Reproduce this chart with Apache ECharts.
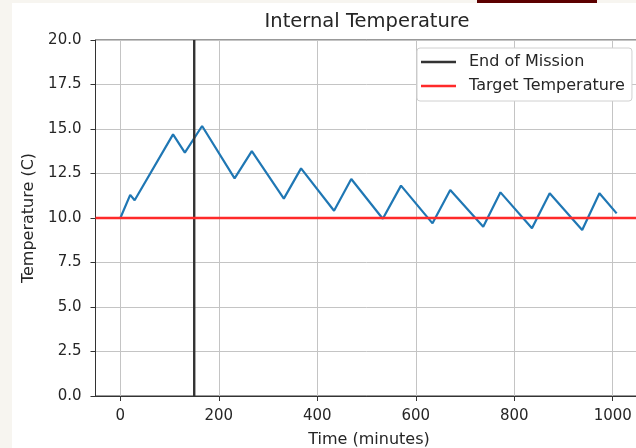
<!DOCTYPE html>
<html>
<head>
<meta charset="utf-8">
<script src="https://cdn.jsdelivr.net/npm/echarts@6/dist/echarts.min.js"></script>
<style>html,body{margin:0;padding:0;background:#fff;}#c{width:636px;height:448px;}</style>
</head>
<body>
<div id="c"></div>
<script>
// Data
const timeMinutes = [0, 20, 29, 107, 131, 166, 232, 267, 332, 367, 434, 469, 533, 570, 634, 670, 737, 772, 836, 872, 938, 973, 1008];
const temperatureC = [10.0, 11.3, 11.0, 14.7, 13.67, 15.17, 12.23, 13.76, 11.09, 12.79, 10.41, 12.19, 9.96, 11.82, 9.7, 11.57, 9.51, 11.44, 9.42, 11.39, 9.33, 11.39, 10.26];
const endOfMission = 150;
const targetTemperature = 10;
const xTicks = [0, 200, 400, 600, 800, 1000];
const yTicks = [0, 2.5, 5, 7.5, 10, 12.5, 15, 17.5, 20];
const xRange = [-50.5, 1060.5];
const yRange = [0, 20];

const font = 'DejaVu Sans';
const txt = '#262626';
const chart = echarts.init(document.getElementById('c'));
chart.setOption({
  animation: false,
  backgroundColor: '#ffffff',
  grid: { left: 95.5, top: 40, width: 547, height: 356, outerBoundsMode: 'none', containLabel: false, show: true, borderColor: '#333', borderWidth: 1, backgroundColor: 'transparent' },
  graphic: [
    { type: 'rect', shape: { x: 0, y: 0, width: 12, height: 448 }, style: { fill: '#f7f5f0' }, silent: true },
    { type: 'rect', shape: { x: 0, y: 0, width: 636, height: 3 }, style: { fill: '#f7f5f0' }, silent: true },
    { type: 'rect', shape: { x: 477, y: 0, width: 120, height: 3 }, style: { fill: '#5c0000' }, silent: true },
    { type: 'text', x: 367, y: 22, style: { text: 'Internal Temperature', font: '19.5px "DejaVu Sans"', fill: txt, textAlign: 'center', textVerticalAlign: 'middle' }, silent: true }
  ],
  legend: {
    orient: 'vertical', left: 417, top: 48,
    padding: [6, 7, 7, 4], itemGap: 8,
    itemWidth: 35, itemHeight: 2.5,
    backgroundColor: '#fff', borderColor: '#d0d0d0', borderWidth: 1, borderRadius: 3,
    textStyle: { fontFamily: font, fontSize: 16, color: txt, padding: [0, 0, 0, 8] },
    data: [{ name: 'End of Mission', icon: 'rect' }, { name: 'Target Temperature', icon: 'rect' }]
  },
  xAxis: {
    type: 'value', min: xRange[0], max: xRange[1],
    name: 'Time (minutes)', nameLocation: 'middle', nameGap: 36,
    nameTextStyle: { fontFamily: font, fontSize: 16, color: txt },
    axisLine: { show: true, onZero: false, lineStyle: { color: '#333', width: 1 } },
    axisTick: { show: true, length: 5, inside: false, customValues: xTicks, lineStyle: { color: '#333' } },
    axisLabel: { customValues: xTicks, fontFamily: font, fontSize: 15, color: txt, margin: 13, formatter: v => String(v) },
    splitLine: { show: true, lineStyle: { color: '#c4c4c4', width: 1 } }
  },
  yAxis: {
    type: 'value', min: yRange[0], max: yRange[1],
    name: 'Temperature (C)', nameLocation: 'middle', nameGap: 57,
    nameTextStyle: { fontFamily: font, fontSize: 16, color: txt },
    axisLine: { show: true, onZero: false, lineStyle: { color: '#333', width: 1 } },
    axisTick: { show: true, length: 5, customValues: yTicks, lineStyle: { color: '#333' } },
    axisLabel: { customValues: yTicks, fontFamily: font, fontSize: 15, color: txt, margin: 14, padding: [4, 0, 0, 0], formatter: v => v.toFixed(1) },
    splitLine: { show: true, lineStyle: { color: '#c4c4c4', width: 1 } }
  },
  series: [
    {
      name: 'Temperature', type: 'line', showSymbol: false, symbol: 'none',
      data: timeMinutes.map((t, i) => [t, temperatureC[i]]),
      lineStyle: { color: '#1f77b4', width: 2.2 }, itemStyle: { color: '#1f77b4' }, z: 2
    },
    {
      name: 'End of Mission', type: 'line', showSymbol: false, symbol: 'none',
      data: [[endOfMission, yRange[0]], [endOfMission, yRange[1]]],
      lineStyle: { color: '#333333', width: 2.4 }, itemStyle: { color: '#333333' }, z: 3
    },
    {
      name: 'Target Temperature', type: 'line', showSymbol: false, symbol: 'none',
      data: [[xRange[0], targetTemperature], [xRange[1], targetTemperature]],
      lineStyle: { color: '#ff2a2a', width: 2.4 }, itemStyle: { color: '#ff2a2a' }, z: 4
    }
  ]
});
</script>
</body>
</html>
